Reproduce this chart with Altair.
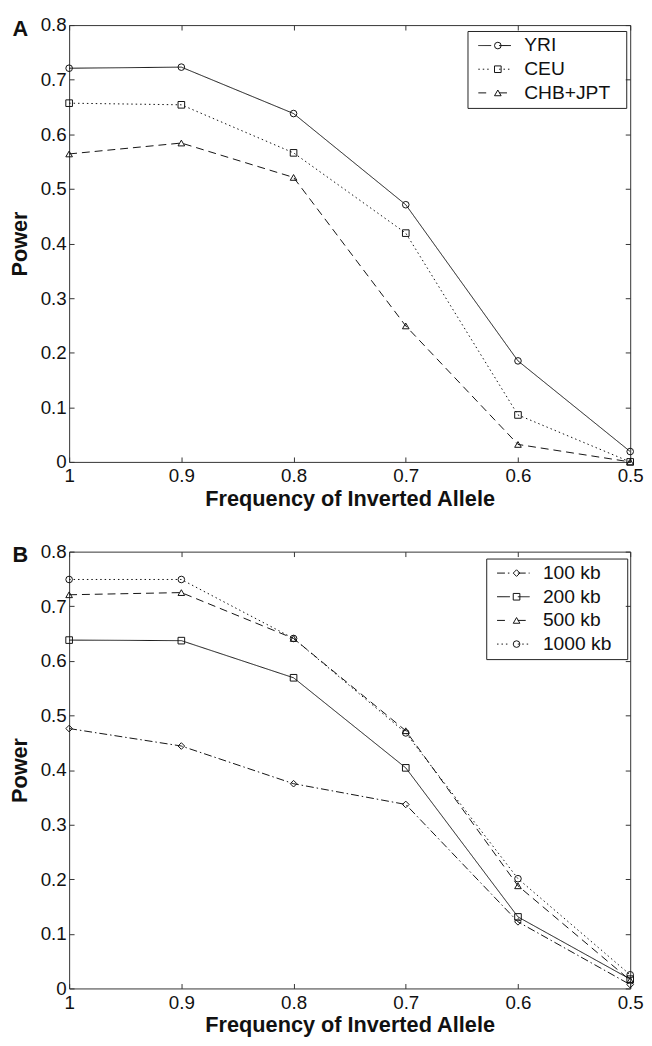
import altair as alt
import pandas as pd

# ---------------- data ----------------
freq = [1.0, 0.9, 0.8, 0.7, 0.6, 0.5]

series_a = ["YRI", "CEU", "CHB+JPT"]
power_yri = [0.721, 0.723, 0.638, 0.471, 0.185, 0.019]
power_ceu = [0.657, 0.654, 0.566, 0.419, 0.086, 0.0]
power_chb = [0.564, 0.584, 0.521, 0.249, 0.032, 0.0]

series_b = ["100 kb", "200 kb", "500 kb", "1000 kb"]
power_100 = [0.476, 0.444, 0.375, 0.337, 0.122, 0.007]
power_200 = [0.638, 0.637, 0.569, 0.404, 0.131, 0.017]
power_500 = [0.721, 0.725, 0.641, 0.472, 0.188, 0.015]
power_1000 = [0.749, 0.749, 0.641, 0.468, 0.201, 0.025]

x_ticks = [1.0, 0.9, 0.8, 0.7, 0.6, 0.5]
y_ticks = [0, 0.1, 0.2, 0.3, 0.4, 0.5, 0.6, 0.7, 0.8]

# ---------------- style ----------------
W, H = 569, 443
FONT = "Liberation Sans"
INK = "#111111"
SOLID = [1, 0]
DOT = [1.5, 3]
DASH = [8, 5]
DASHDOT = [8, 3, 1.5, 3]
LEG_PATH = "M-0.42,0H1.03M1.92,0H3.25"
LEG_FONT = 19.5
PAD = "\u00a0\u00a0\u200b"


def long_df(names, values):
    rows = []
    for name, vals in zip(names, values):
        for f, p in zip(freq, vals):
            rows.append({"freq": f, "power": p, "series": name, "series_m": "m_" + name})
    return pd.DataFrame(rows)


def panel(df, names, dashes, shapes, letter, lx, ly):
    xs = alt.Scale(domain=[0.5, 1.0], reverse=True, nice=False, zero=False)
    ys = alt.Scale(domain=[0, 0.8], nice=False, zero=False)
    base = alt.Chart(df)
    names_m = ["m_" + n for n in names]

    lines = base.mark_line(color=INK, strokeWidth=1).encode(
        x=alt.X("freq:Q", scale=xs, axis=alt.Axis(
            orient="bottom", values=x_ticks, format="~g", ticks=False, domain=False, grid=False,
            labelFlush=False, title="Frequency of Inverted Allele", labelFontSize=19,
            labelFont=FONT, labelColor=INK, labelPadding=5, titleFont=FONT, titleFontSize=22,
            titleFontWeight="bold", titleColor=INK, titlePadding=3)),
        y=alt.Y("power:Q", scale=ys, axis=alt.Axis(
            orient="left", values=y_ticks, format="~g", ticks=False, domain=False, grid=False,
            title="Power", labelFontSize=19, labelFont=FONT, labelColor=INK, labelPadding=3,
            titleFont=FONT, titleFontSize=22, titleFontWeight="bold", titleColor=INK,
            titlePadding=9)),
        strokeDash=alt.StrokeDash("series:N", scale=alt.Scale(domain=names, range=dashes),
            legend=alt.Legend(
                title=None, orient="none", legendX=lx, legendY=ly,
                symbolType=LEG_PATH, symbolSize=324, symbolStrokeWidth=1,
                symbolStrokeColor=INK, labelFontSize=LEG_FONT, labelFont=FONT,
                labelColor=INK, labelOffset=33, rowPadding=3, padding=5,
                strokeColor="#222", labelExpr="datum.label + '" + PAD + "'")),
    )

    pts = base.mark_point(filled=False, color=INK, strokeWidth=1, size=45,
                          opacity=1).encode(
        x=alt.X("freq:Q", scale=xs, axis=alt.Axis(
            orient="top", offset=-H, values=x_ticks, labels=False, domain=False,
            grid=False, tickSize=5, tickColor="#333", title=None)),
        y=alt.Y("power:Q", scale=ys, axis=alt.Axis(
            orient="right", offset=-W, values=y_ticks, labels=False, domain=False,
            grid=False, tickSize=5, tickColor="#333", title=None)),
        shape=alt.Shape("series_m:N", scale=alt.Scale(domain=names_m, range=shapes),
            legend=alt.Legend(
                title=None, orient="none", legendX=lx + 16, legendY=ly,
                symbolSize=45, symbolStrokeWidth=1, symbolStrokeColor=INK,
                labelFontSize=LEG_FONT, labelFont=FONT,
                labelExpr="''", rowPadding=3, padding=5)),
    )

    frame = base.mark_point(opacity=0).encode(
        x=alt.X("freq:Q", scale=xs, axis=alt.Axis(
            orient="bottom", offset=-H, values=x_ticks, labels=False, domain=False,
            grid=False, tickSize=5, tickColor="#333", title=None)),
        y=alt.Y("power:Q", scale=ys, axis=alt.Axis(
            orient="left", offset=-W, values=y_ticks, labels=False, domain=False,
            grid=False, tickSize=5, tickColor="#333", title=None)),
    )

    return alt.layer(lines, pts, frame).resolve_axis(
        x="independent", y="independent"
    ).properties(
        width=W, height=H,
        title=alt.TitleParams(text=letter, anchor="start", frame="bounds", fontSize=22,
                              fontWeight="bold", font=FONT, color=INK, offset=-25, dx=4),
    )


df_a = long_df(series_a, [power_yri, power_ceu, power_chb])
df_b = long_df(series_b, [power_100, power_200, power_500, power_1000])

pa = panel(df_a, series_a, [SOLID, DOT, DASH], ["circle", "square", "triangle-up"],
           "A", 404, 6)
pb = panel(df_b, series_b, [DASHDOT, SOLID, DASH, DOT],
           ["diamond", "square", "triangle-up", "circle"], "B", 423, 7)

chart = alt.vconcat(pa, pb, spacing=32).resolve_scale(
    strokeDash="independent", shape="independent"
).resolve_legend(
    strokeDash="independent", shape="independent"
).properties(
    padding={"left": 0, "top": 0, "right": 0, "bottom": 0}
).configure_view(stroke="#333", strokeWidth=1)

chart.save("out.html", embed_options={"renderer": "svg", "actions": False})
